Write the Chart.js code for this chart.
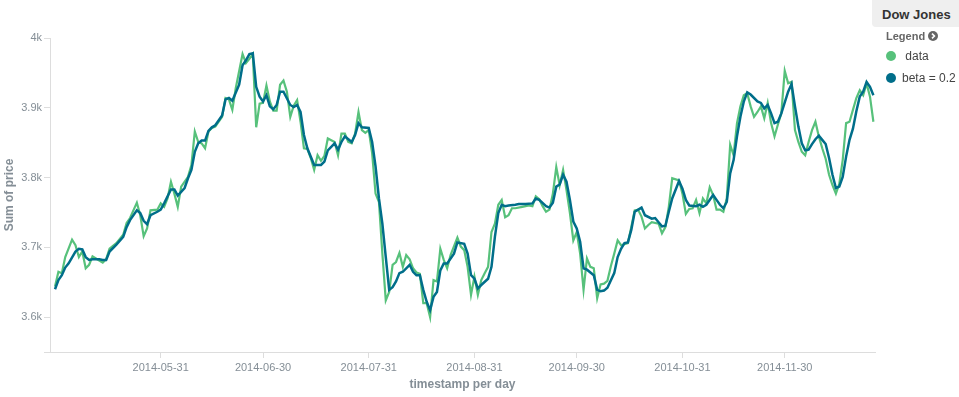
<!DOCTYPE html>
<html>
<head>
<meta charset="utf-8">
<script src="https://cdn.jsdelivr.net/npm/chart.js@4"></script>
<style>
  html, body { margin: 0; padding: 0; background: #fff; }
  #wrap { position: relative; width: 959px; height: 397px; font-family: "Liberation Sans", Arial, sans-serif; }
  #chart { position: absolute; left: 0; top: 0; }
  #title { position: absolute; left: 872px; top: 0; width: 87px; height: 27px; background: #efefef;
           border-bottom-left-radius: 4px; font-weight: bold; font-size: 13px; color: #333;
           line-height: 30px; padding-left: 10px; box-sizing: border-box; }
  #legendHead { position: absolute; left: 886px; top: 30px; font-size: 11px; font-weight: bold; color: #666; }
  #legendHead svg { vertical-align: -1px; }
  .item { position: absolute; left: 886px; font-size: 12px; color: #444; white-space: nowrap; }
  .dot { display: inline-block; width: 10px; height: 10px; border-radius: 50%; vertical-align: -1px; margin-right: 6px; }
</style>
</head>
<body>
<div id="wrap">
  <canvas id="chart" width="959" height="397"></canvas>
  <div id="title">Dow Jones</div>
  <div id="legendHead">Legend <svg width="10" height="10" viewBox="0 0 10 10"><circle cx="5" cy="5" r="5" fill="#666"/><path d="M4 2.6 L6.4 5 L4 7.4" stroke="#fff" stroke-width="1.6" fill="none"/></svg></div>
  <div class="item" style="top:49px"><span class="dot" style="background:#57c17b"></span> data</div>
  <div class="item" style="top:71px"><span class="dot" style="background:#006e8a"></span>beta = 0.2</div>
</div>
<script>
// day offsets counted from 2014-04-30
const tickDays = [31, 61, 92, 123, 153, 184, 214];
const tickLabels = ['2014-05-31', '2014-06-30', '2014-07-31', '2014-08-31', '2014-09-30', '2014-10-31', '2014-11-30'];
const yTicks = [3550, 3600, 3700, 3800, 3900, 4000];

const dataDays = [0,1,2,3,5,6,7,8,9,10,11,12,14,15,16,18,20,21,22,24,25,26,27,28,30,31,32,33,34,35,36,37,39,40,
  41,42,43,44,45,46,47,49,50,51,52,53,55,56,57,58,59,60,61,62,63,64,65,66,67,68,69,70,71,72,73,74,75,76,77,78,79,80,
  82,83,84,85,86,87,88,89,90,91,92,93,94,95,96,97,98,99,100,101,102,103,104,105,106,107,108,109,110,111,112,113,114,115,116,118,119,
  120,121,122,123,124,125,126,127,128,129,130,131,132,133,134,135,137,138,139,140,141,142,143,144,145,146,147,148,149,150,
  151,152,153,154,155,156,157,158,159,160,161,162,163,164,165,166,168,169,170,171,172,173,174,175,177,178,179,180,181,183,
  184,185,186,187,188,189,190,191,192,193,194,195,196,197,198,199,200,201,202,203,204,205,206,207,208,209,210,211,212,213,
  214,215,216,217,218,219,220,221,222,223,224,225,226,227,228,229,230,231,232,233,234,235,236,237,238,239,240];
const dataValues = [3644,3665,3663,3686,3711,3703,3686,3694,3670,3675,3687,3684,3678,3683,3698,3706,3718,3735,3742,3764,3746,3716,3727,3753,3754,3763,3758,3770,3794,3777,3758,3787,3801,3818,
  3866,3851,3849,3842,3866,3871,3873,3887,3914,3912,3897,3928,3977,3964,3970,3977,3872,3906,3907,3932,3909,3896,3896,3933,3939,3923,3887,3903,3911,3880,3842,3841,3828,3811,3832,3824,3831,3856,
  3851,3832,3863,3863,3851,3849,3863,3894,3868,3864,3868,3835,3777,3765,3691,3624,3636,3675,3679,3692,3672,3689,3683,3670,3664,3662,3620,3620,3600,3653,3651,3698,3682,3670,3689,3714,3701,
  3696,3672,3632,3658,3632,3653,3663,3672,3722,3734,3761,3768,3743,3746,3756,3756,3758,3759,3760,3759,3773,3769,3759,3751,3754,3777,3815,3789,3811,3782,
  3749,3710,3722,3691,3639,3684,3672,3670,3627,3647,3648,3652,3673,3691,3710,3703,3706,3729,3753,3754,3744,3727,3732,3736,3734,3720,3729,3758,3799,3796,
  3777,3748,3755,3756,3768,3749,3770,3763,3786,3775,3754,3754,3751,3770,3847,3832,3878,3902,3918,3921,3902,3887,3894,3902,3885,3907,3878,3859,3876,3892,
  3953,3935,3937,3868,3851,3837,3832,3851,3868,3880,3859,3842,3827,3804,3789,3777,3791,3825,3878,3880,3897,3914,3925,3918,3935,3916,3880];

const betaDays = [0,1,2,3,4,6,7,8,9,10,11,13,14,15,16,18,20,21,22,24,25,26,27,28,30,31,32,34,35,36,38,39,40,41,42,43,44,45,46,47,
  49,50,51,52,54,55,56,57,58,59,60,61,62,63,64,65,66,67,69,70,71,72,73,74,76,77,78,79,80,82,83,84,85,87,88,89,90,92,93,94,95,96,97,98,
  99,100,101,102,104,105,106,107,108,109,110,111,112,113,114,115,117,118,120,121,122,123,124,125,127,128,129,130,131,132,133,135,136,138,140,141,
  142,144,145,146,147,148,149,150,151,152,153,154,155,156,158,159,160,161,162,164,165,166,167,168,169,170,172,173,175,176,177,178,179,180,181,
  183,184,185,186,188,189,190,191,193,194,195,196,197,198,199,200,201,202,203,204,206,207,208,209,210,211,212,213,215,216,217,218,219,220,
  221,222,223,224,225,226,227,228,229,230,231,232,233,234,235,236,237,238,239,240];
const betaValues = [3640,3653,3660,3671,3677,3694,3698,3697,3686,3682,3683,3683,3682,3682,3694,3704,3715,3729,3739,3753,3749,3738,3733,3746,3751,3754,3763,3783,3783,3774,3785,3799,3811,3837,3849,3853,3853,3867,3872,3875,
  3889,3912,3914,3910,3933,3961,3968,3977,3978,3930,3916,3909,3918,3902,3898,3904,3923,3923,3904,3901,3904,3894,3861,3842,3818,3818,3818,3823,3839,3849,3840,3851,3859,3851,3861,3878,3872,3871,3851,3816,3770,3734,3686,3639,
  3643,3651,3663,3665,3675,3665,3660,3660,3639,3622,3610,3629,3636,3667,3677,3677,3691,3707,3705,3691,3660,3655,3641,3646,3655,3672,3715,3749,3761,3759,3760,3761,3762,3762,3763,3770,
  3768,3759,3757,3764,3787,3790,3804,3794,3768,3737,3727,3708,3670,3668,3660,3639,3637,3638,3642,3663,3686,3698,3706,3707,3725,3751,3757,3746,3741,3742,3736,3730,3731,3751,3770,
  3795,3784,3768,3760,3759,3761,3758,3761,3775,3768,3761,3756,3765,3806,3825,3859,3887,3909,3922,3919,3909,3907,3899,3904,3892,3878,3880,3892,3923,3934,3902,3873,3849,3839,
  3840,3848,3855,3860,3854,3848,3828,3804,3785,3787,3801,3830,3854,3870,3895,3916,3923,3937,3930,3918];

const axisGray = '#848e96';
const lineGray = '#dddddd';

new Chart(document.getElementById('chart').getContext('2d'), {
  type: 'line',
  data: {
    datasets: [{
      label: 'data',
      data: dataDays.map((d, i) => ({ x: d, y: dataValues[i] })),
      borderColor: '#57c17b',
      borderWidth: 2.2,
      pointRadius: 0,
      tension: 0,
      order: 2
    }, {
      label: 'beta = 0.2',
      data: betaDays.map((d, i) => ({ x: d, y: betaValues[i] })),
      borderColor: '#006e8a',
      borderWidth: 2.5,
      pointRadius: 0,
      tension: 0,
      order: 1
    }]
  },
  options: {
    responsive: false,
    animation: false,
    layout: { padding: { top: 38, right: 84, left: 0, bottom: 0 } },
    plugins: { legend: { display: false }, tooltip: { enabled: false } },
    scales: {
      x: {
        type: 'linear',
        min: -1.47,
        max: 240.47,
        afterBuildTicks: s => { s.ticks = tickDays.map(v => ({ value: v })); },
        afterFit: s => { s.height = 45; },
        grid: { drawOnChartArea: false, drawTicks: true, tickLength: 6, color: lineGray },
        border: { color: lineGray },
        ticks: {
          autoSkip: false, maxRotation: 0, padding: 3,
          color: axisGray, font: { family: 'Liberation Sans', size: 11 },
          callback: v => tickLabels[tickDays.indexOf(v)] || ''
        },
        title: {
          display: true, text: 'timestamp per day', color: axisGray,
          font: { family: 'Liberation Sans', size: 12, weight: 'bold' },
          padding: { top: 0, bottom: 5 }
        }
      },
      y: {
        min: 3550,
        max: 4000,
        afterBuildTicks: s => { s.ticks = yTicks.map(v => ({ value: v })); },
        afterFit: s => { s.width = 50; },
        grid: { drawOnChartArea: false, drawTicks: true, tickLength: 6, color: lineGray },
        border: { color: lineGray },
        ticks: {
          padding: 2, color: axisGray, font: { family: 'Liberation Sans', size: 11 },
          callback: v => v === 3550 ? '' : (v / 1000) + 'k'
        },
        title: {
          display: true, text: 'Sum of price', color: axisGray,
          font: { family: 'Liberation Sans', size: 12, weight: 'bold' },
          padding: { top: 2, bottom: 0 }
        }
      }
    }
  }
});
</script>
</body>
</html>
